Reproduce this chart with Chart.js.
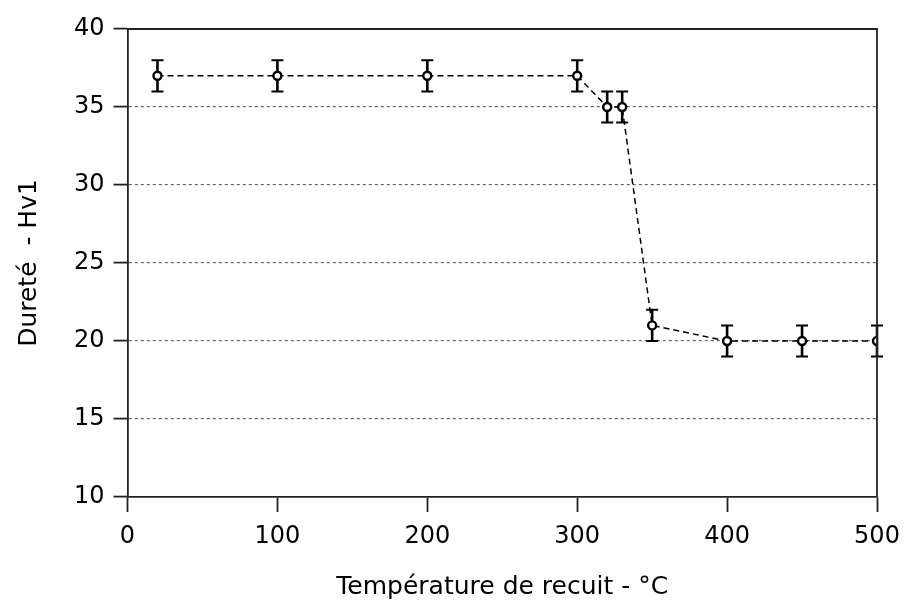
<!DOCTYPE html>
<html>
<head>
<meta charset="utf-8">
<script src="https://cdn.jsdelivr.net/npm/chart.js@4/dist/chart.umd.min.js"></script>
<style>
  html, body { margin: 0; padding: 0; background: #fff; }
  #wrap { width: 904px; height: 602px; }
</style>
</head>
<body>
<div id="wrap"><canvas id="myChart"></canvas></div>
<script>
// donnees
const temperatures = [20, 100, 200, 300, 320, 330, 350, 400, 450, 500];
const durete = [37, 37, 37, 37, 35, 35, 21, 20, 20, 20];
const erreur = [1, 1, 1, 1, 1, 1, 1, 1, 1, 1];
const xTicks = [0, 100, 200, 300, 400, 500];
const yTicks = [10, 15, 20, 25, 30, 35, 40];

const police = "'DejaVu Sans', sans-serif";

// barres d'erreur dessinees avec les echelles du graphique
const barresErreur = {
  id: "barresErreur",
  beforeDatasetsDraw(chart) {
    const c = chart.ctx;
    const xs = chart.scales.x;
    const ys = chart.scales.y;
    c.save();
    c.strokeStyle = "#000";
    for (let i = 0; i < durete.length; i++) {
      const x = xs.getPixelForValue(temperatures[i]);
      const yHaut = ys.getPixelForValue(durete[i] + erreur[i]);
      const yBas = ys.getPixelForValue(durete[i] - erreur[i]);
      c.lineWidth = 2.6;
      c.beginPath();
      c.moveTo(x, yHaut);
      c.lineTo(x, yBas);
      c.stroke();
      c.lineWidth = 2;
      c.beginPath();
      c.moveTo(x - 6, yHaut);
      c.lineTo(x + 6, yHaut);
      c.moveTo(x - 6, yBas);
      c.lineTo(x + 6, yBas);
      c.stroke();
    }
    c.restore();
  },
};

// cadre haut et droit
const cadre = {
  id: "cadre",
  afterDraw(chart) {
    const a = chart.chartArea;
    const c = chart.ctx;
    c.save();
    c.strokeStyle = "#222";
    c.lineWidth = 1.8;
    c.beginPath();
    c.moveTo(a.left, a.top);
    c.lineTo(a.right, a.top);
    c.lineTo(a.right, a.bottom);
    c.stroke();
    c.restore();
  },
};

new Chart(document.getElementById("myChart"), {
  type: "line",
  data: {
    datasets: [
      {
        label: "Dureté",
        data: temperatures.map((t, i) => ({ x: t, y: durete[i] })),
        borderColor: "#000",
        borderWidth: 1.5,
        borderDash: [6, 4],
        tension: 0,
        pointRadius: 4,
        pointBorderWidth: 2.4,
        pointBackgroundColor: "#fff",
        pointBorderColor: "#000",
        fill: false,
      },
    ],
  },
  options: {
    responsive: true,
    maintainAspectRatio: false,
    animation: false,
    layout: { padding: { top: 29, right: 27, left: 0, bottom: 0 } },
    plugins: { legend: { display: false }, tooltip: { enabled: false } },
    scales: {
      x: {
        type: "linear",
        min: 0,
        max: 500,
        afterBuildTicks: (s) => { s.ticks = xTicks.map((v) => ({ value: v })); },
        afterFit: (s) => {
          s.height = 105;
          s.paddingLeft = 0;
          s.paddingRight = 0;
        },
        grid: {
          drawOnChartArea: false,
          drawTicks: true,
          tickLength: 15,
          tickColor: "#222",
          tickWidth: 1.8,
        },
        border: { display: true, color: "#222", width: 1.8 },
        ticks: { color: "#000", padding: 10, font: { family: police, size: 24 } },
        title: {
          display: true,
          text: "Température de recuit - °C",
          color: "#000",
          font: { family: police, size: 25 },
          padding: { top: 1, bottom: 0 },
        },
      },
      y: {
        type: "linear",
        min: 10,
        max: 40,
        afterBuildTicks: (s) => { s.ticks = yTicks.map((v) => ({ value: v })); },
        afterFit: (s) => {
          s.width = 127.5;
          s.paddingTop = 0;
          s.paddingBottom = 0;
        },
        grid: {
          color: (ctx) => (ctx.tick && (ctx.tick.value === 10 || ctx.tick.value === 40) ? "rgba(0,0,0,0)" : "#666"),
          lineWidth: 1.2,
          drawTicks: true,
          tickLength: 14,
          tickColor: "#222",
          tickWidth: 1.8,
          tickBorderDash: [],
        },
        border: { display: true, color: "#222", width: 1.8, dash: [3, 3] },
        ticks: { color: "#000", padding: 9, font: { family: police, size: 24 } },
        title: {
          display: true,
          text: "Dureté  - Hv1",
          color: "#000",
          font: { family: police, size: 25 },
          padding: { top: 14, bottom: 0 },
        },
      },
    },
  },
  plugins: [barresErreur, cadre],
});
</script>
</body>
</html>
